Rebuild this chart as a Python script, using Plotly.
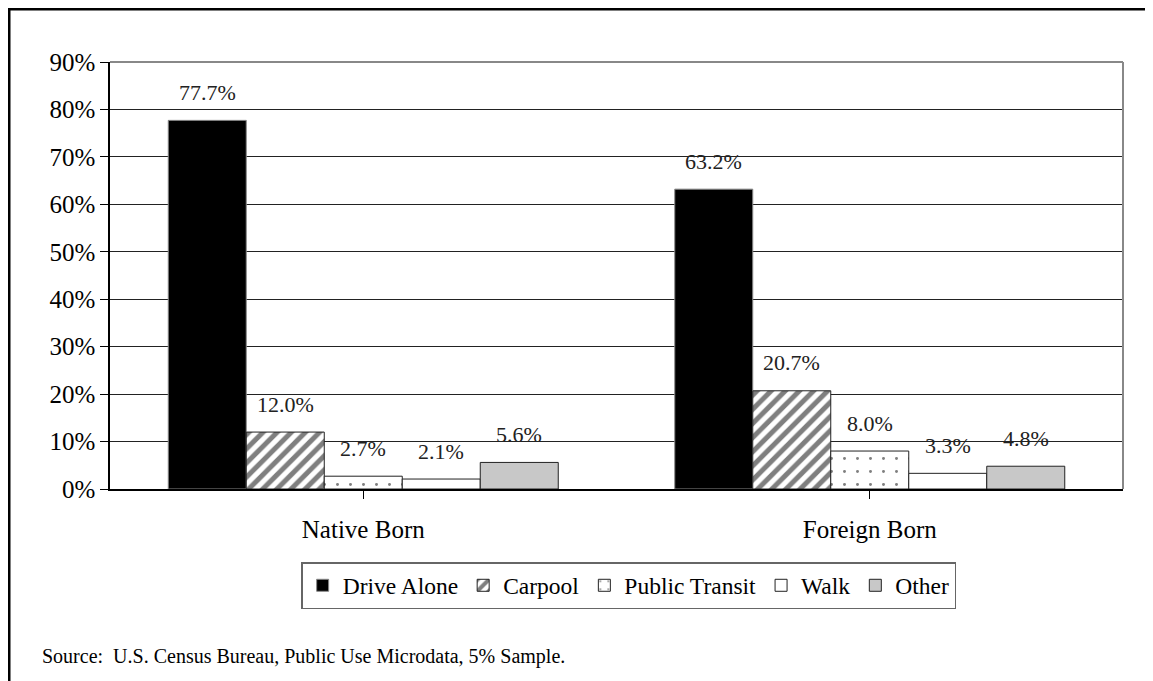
import plotly.graph_objects as go

categories = ["Native Born", "Foreign Born"]
series_names = ["Drive Alone", "Carpool", "Public Transit", "Walk", "Other"]
drive_alone = [77.7, 63.2]
carpool = [12.0, 20.7]
public_transit = [2.7, 8.0]
walk = [2.1, 3.3]
other = [5.6, 4.8]
label_texts = [["77.7%", "63.2%"], ["12.0%", "20.7%"], ["2.7%", "8.0%"], ["2.1%", "3.3%"], ["5.6%", "4.8%"]]
y_ticks = [0, 10, 20, 30, 40, 50, 60, 70, 80, 90]
y_tick_labels = ["0%", "10%", "20%", "30%", "40%", "50%", "60%", "70%", "80%", "90%"]
source_text = "Source:  U.S. Census Bureau, Public Use Microdata, 5% Sample."

values = [drive_alone, carpool, public_transit, walk, other]
FONT = "Liberation Serif, Times New Roman, serif"

styles = [
    dict(color="black", line=dict(color="#888888", width=1)),
    dict(color="white", line=dict(color="#222222", width=1),
         pattern=dict(shape="/", fgcolor="black", bgcolor="white", size=10, solidity=0.5)),
    dict(color="white", line=dict(color="#222222", width=1),
         pattern=dict(shape=".", fgcolor="black", bgcolor="white", size=13, solidity=0.04)),
    dict(color="white", line=dict(color="#222222", width=1)),
    dict(color="#c8c8c8", line=dict(color="#222222", width=1)),
]

fig = go.Figure()
for name, vals, st in zip(series_names, values, styles):
    fig.add_trace(go.Bar(name=name, x=[0, 1], y=vals, marker=st))

bargap = 0.23
n = len(series_names)
bw = (1 - bargap) / n
annotations = []
for i, vals in enumerate(values):
    for j, v in enumerate(vals):
        annotations.append(dict(
            x=j - (1 - bargap) / 2 + (i + 0.5) * bw, y=v, xref="x", yref="y",
            text=label_texts[i][j], showarrow=False, yanchor="middle", yshift=28,
            font=dict(family=FONT, size=22, color="#222222")))

annotations.append(dict(
    x=-0.0691, y=-0.393, xref="paper", yref="paper", xanchor="left", yanchor="middle",
    text=source_text, showarrow=False, font=dict(family=FONT, size=20, color="black")))

shapes = [
    dict(type="rect", xref="paper", yref="paper", x0=-0.0997, x1=1.0247, y0=-0.6, y1=1.1241,
         line=dict(color="black", width=3), layer="below"),
    dict(type="line", xref="paper", yref="paper", x0=0, x1=1, y0=1, y1=1,
         line=dict(color="#888888", width=2)),
    dict(type="line", xref="paper", yref="paper", x0=1, x1=1, y0=0, y1=1,
         line=dict(color="#888888", width=2)),
]

fig.update_layout(
    width=1153, height=681,
    margin=dict(l=102, r=38, t=54, b=200),
    paper_bgcolor="white", plot_bgcolor="white",
    barmode="group", bargap=bargap, bargroupgap=0,
    font=dict(family=FONT, color="black"),
    showlegend=True,
    legend=dict(orientation="h", x=0.512, xanchor="center", y=-0.171, yanchor="top",
                bordercolor="#666666", borderwidth=1.5, font=dict(family=FONT, size=23.5),
                itemwidth=30, traceorder="normal"),
    annotations=annotations,
    shapes=shapes,
    xaxis=dict(tickmode="array", tickvals=[0, 1], ticktext=categories, range=[-0.5, 1.5],
               tickson="boundaries", ticks="outside", ticklen=8, tickcolor="black",
               showline=True, linecolor="black", linewidth=1.5, showgrid=False,
               tickfont=dict(family=FONT, size=25), ticklabelstandoff=9),
    yaxis=dict(range=[0, 90], tickmode="array", tickvals=y_ticks, ticktext=y_tick_labels,
               ticks="outside", ticklen=8, tickcolor="black",
               showline=True, linecolor="black", linewidth=1.5,
               showgrid=True, gridcolor="#222222", gridwidth=1, zeroline=False,
               tickfont=dict(family=FONT, size=25)),
)

fig.write_html("out.html")
